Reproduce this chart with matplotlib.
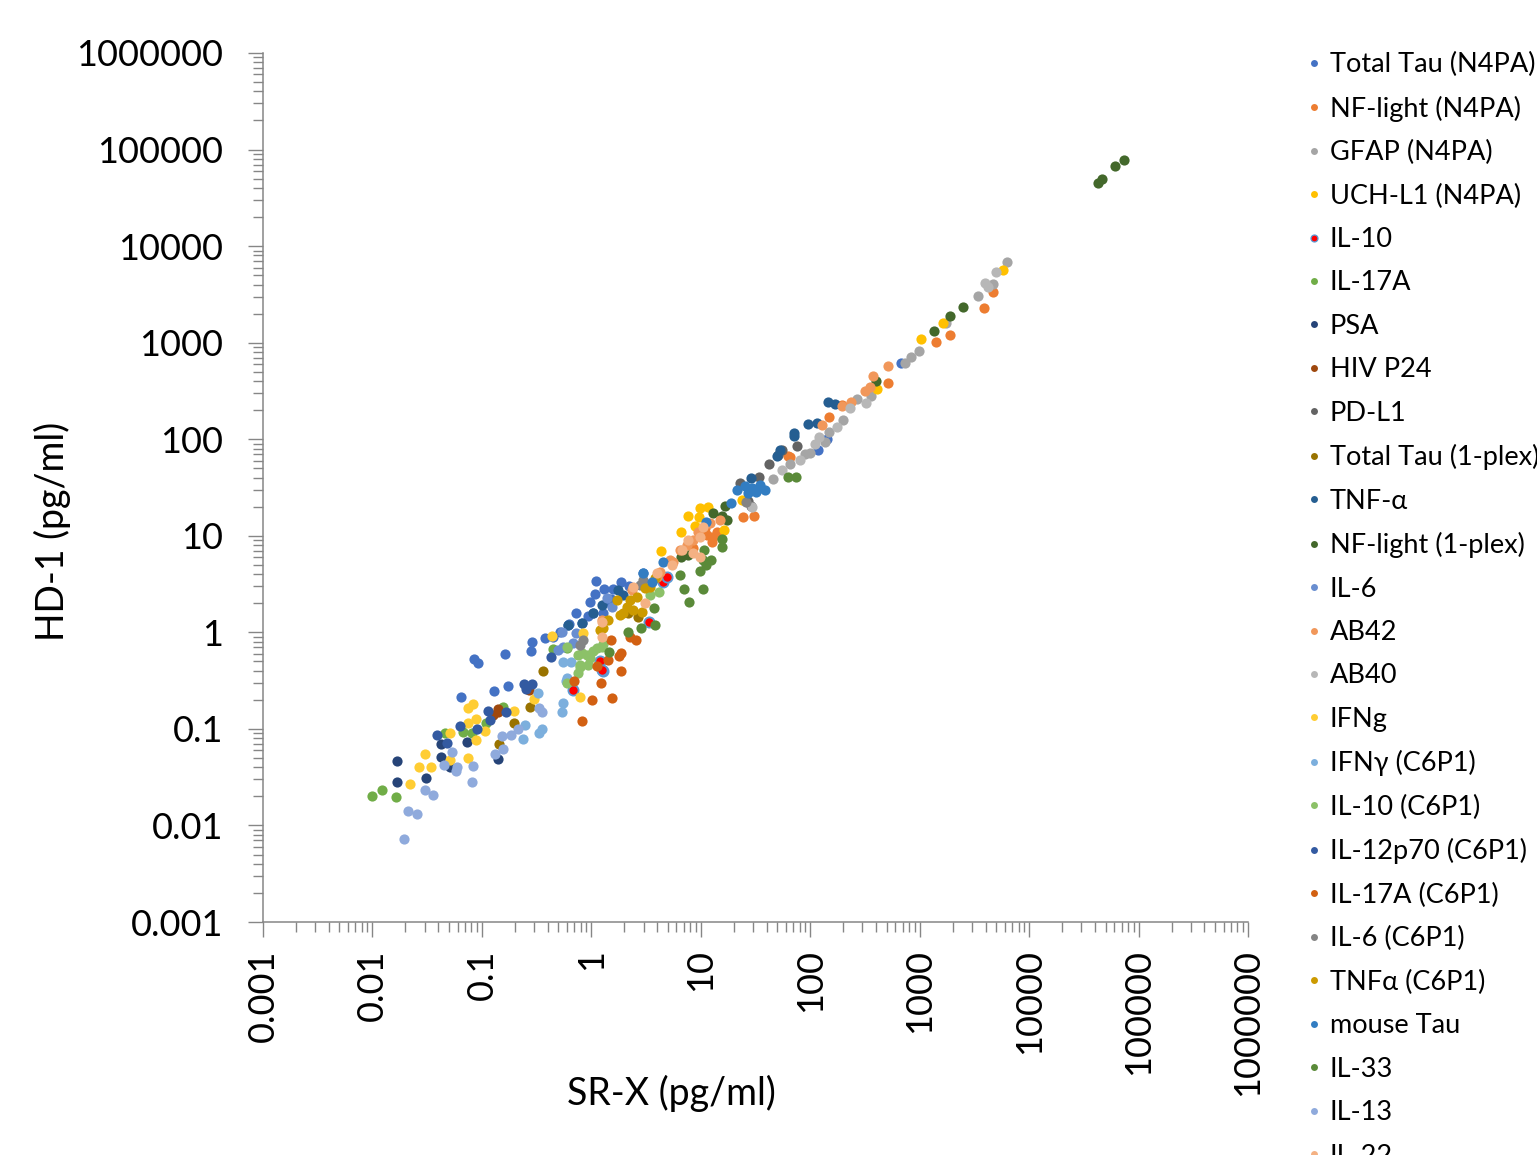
import numpy as np
import matplotlib
matplotlib.use('Agg')
import matplotlib.pyplot as plt
from matplotlib.ticker import LogLocator, FuncFormatter, NullFormatter
from matplotlib.lines import Line2D

plt.rcParams['font.family'] = ['Lato', 'DejaVu Sans']

names = ['Total Tau (N4PA)', 'NF-light (N4PA)', 'GFAP (N4PA)', 'UCH-L1 (N4PA)', 'IL-10',
         'IL-17A', 'PSA', 'HIV P24', 'PD-L1', 'Total Tau (1-plex)', 'TNF-\u03b1',
         'NF-light (1-plex)', 'IL-6', 'AB42', 'AB40', 'IFNg', 'IFN\u03b3 (C6P1)',
         'IL-10 (C6P1)', 'IL-12p70 (C6P1)', 'IL-17A (C6P1)', 'IL-6 (C6P1)',
         'TNF\u03b1 (C6P1)', 'mouse Tau', 'IL-33', 'IL-13', 'IL-22']
colors = ['#4472C4', '#ED7D31', '#A5A5A5', '#FFC000', '#FF0000', '#70AD47', '#264478',
          '#9E480E', '#636363', '#997300', '#255E91', '#43682B', '#698ED0', '#F1975A',
          '#B7B7B7', '#FFCD33', '#7CAFDD', '#8CC168', '#335AA1', '#D26012', '#848484',
          '#CC9A00', '#327DC2', '#5A8A39', '#8FAADC', '#F4B183']

# SR-X values (x) and HD-1 values (y), pg/ml, per assay
srx = {}
hd1 = {}
srx['Total Tau (N4PA)'] = [0.065, 0.085, 0.092, 0.129, 0.163, 0.173, 0.28, 0.287, 0.38, 0.45, 0.52, 0.625,
                           1.10, 1.31, 0.97, 1.08, 0.93, 1.58, 1.86, 0.61, 0.82, 1.39, 1.28, 1.04, 2.97,
                           676, 143, 118, 0.72, 1.5, 2.2]
hd1['Total Tau (N4PA)'] = [0.214, 0.53, 0.48, 0.245, 0.60, 0.28, 0.64, 0.79, 0.87, 0.89, 1.0, 1.22,
                           3.4, 2.8, 2.06, 2.5, 1.48, 2.8, 3.3, 1.19, 1.25, 2.06, 1.58, 1.58, 4.1,
                           617, 100, 78, 1.6, 2.2, 3.0]
srx['NF-light (N4PA)'] = [24.3, 30.7, 195, 65, 12.9, 11.4, 12.7, 5.5, 4700, 3890, 1900, 1420, 513, 63, 11,
                          8.5, 14, 150]
hd1['NF-light (N4PA)'] = [15.7, 16.0, 226, 65, 9.7, 10.2, 8.6, 5.2, 3360, 2290, 1200, 1010, 385, 67, 12,
                          7.5, 11, 170]
srx['GFAP (N4PA)'] = [6300, 4700, 3420, 1740, 985, 830, 735, 359, 268, 200, 137, 100, 65, 46, 35, 150, 90]
hd1['GFAP (N4PA)'] = [6840, 4050, 3040, 1600, 820, 710, 617, 280, 261, 158, 93, 72, 56, 39, 31.5, 120, 70]
srx['UCH-L1 (N4PA)'] = [5800, 1640, 1030, 408, 7.7, 9.8, 11.6, 9.6, 8.9, 6.6, 4.3, 16.3, 23.8]
hd1['UCH-L1 (N4PA)'] = [5630, 1600, 1090, 330, 16, 19.4, 20, 15.6, 12.6, 11, 7.0, 11.5, 23.5]
srx['IL-10'] = [0.68, 1.28, 1.2, 3.37, 4.5, 4.9, 1.25]
hd1['IL-10'] = [0.25, 0.40, 0.50, 1.28, 3.3, 3.7, 0.41]
srx['IL-17A'] = [0.0099, 0.0122, 0.0164, 0.046, 0.067, 0.081, 0.109, 0.156, 0.45, 0.60]
hd1['IL-17A'] = [0.0203, 0.0234, 0.0199, 0.091, 0.093, 0.091, 0.116, 0.17, 0.67, 0.69]
srx['PSA'] = [0.0167, 0.0167, 0.031, 0.042, 0.051, 0.14, 0.073, 0.042]
hd1['PSA'] = [0.047, 0.028, 0.031, 0.051, 0.040, 0.049, 0.073, 0.070]
srx['HIV P24'] = [0.14, 0.27, 0.14, 0.126]
hd1['HIV P24'] = [0.16, 0.25, 0.15, 0.138]
srx['PD-L1'] = [34, 42, 51, 55, 76, 35, 27, 29, 23]
hd1['PD-L1'] = [40.7, 55, 69, 77, 85, 32, 23, 20.4, 35]
srx['Total Tau (1-plex)'] = [0.36, 0.275, 0.197, 0.144, 2.67, 2.17]
hd1['Total Tau (1-plex)'] = [0.40, 0.17, 0.116, 0.070, 1.45, 1.58]
srx['TNF-\u03b1'] = [146, 169, 96, 115, 71, 71, 53, 50, 29, 1.75, 1.95, 1.25, 1.04, 0.82, 0.61]
hd1['TNF-\u03b1'] = [243, 232, 144, 148, 116, 108, 77, 67, 40, 2.74, 2.43, 1.92, 1.58, 1.25, 1.19]
srx['NF-light (1-plex)'] = [42700, 46500, 61000, 73800, 2490, 1890, 1350, 398, 16.6, 12.9, 15.6, 17.4, 7.7, 6.6]
hd1['NF-light (1-plex)'] = [45200, 49800, 67700, 78500, 2340, 1890, 1320, 400, 20.4, 17.3, 16, 14.6, 6.3, 6.0]
srx['IL-6'] = [1.39, 1.55, 0.55, 0.68, 0.50, 0.54, 0.72]
hd1['IL-6'] = [2.26, 1.83, 0.70, 0.78, 0.66, 1.0, 0.98]
srx['AB42'] = [12.2, 15, 8.5, 7.5, 5.6, 5.2, 4.25, 4.0, 2.36, 1.25, 513, 376, 352, 316, 236, 195, 128,
               9.5, 6.4]
hd1['AB42'] = [13.5, 14.6, 9.0, 8.0, 5.3, 5.6, 4.2, 3.7, 2.74, 1.34, 573, 452, 347, 316, 243, 221, 140,
               11, 7.2]
srx['AB40'] = [5000, 3990, 4220, 323, 232, 177, 111, 81, 29.5, 120, 55]
hd1['AB40'] = [5370, 4140, 3770, 237, 210, 133, 89, 61, 20, 105, 48]
srx['IFNg'] = [0.022, 0.0267, 0.034, 0.030, 0.051, 0.075, 0.051, 0.075, 0.089, 0.089, 0.107, 0.075,
               0.083, 0.197, 0.30, 0.79, 0.44, 0.84]
hd1['IFNg'] = [0.027, 0.040, 0.040, 0.055, 0.048, 0.050, 0.091, 0.116, 0.127, 0.076, 0.096, 0.166,
               0.182, 0.155, 0.206, 0.215, 0.91, 0.98]
srx['IFN\u03b3 (C6P1)'] = [0.25, 0.238, 0.333, 0.355, 0.54, 0.55, 0.326, 0.55, 0.65, 0.60, 0.59]
hd1['IFN\u03b3 (C6P1)'] = [0.110, 0.079, 0.091, 0.10, 0.148, 0.186, 0.237, 0.49, 0.49, 0.34, 0.31]
srx['IL-10 (C6P1)'] = [0.60, 0.79, 0.97, 0.82, 1.13, 1.28, 0.93, 0.76, 1.04, 0.76, 0.91, 1.25, 0.79, 0.60,
                       3.44, 4.15]
hd1['IL-10 (C6P1)'] = [0.30, 0.44, 0.54, 0.61, 0.69, 0.76, 0.46, 0.38, 0.64, 0.58, 0.58, 0.70, 0.46, 0.70,
                       2.43, 2.61]
srx['IL-12p70 (C6P1)'] = [0.039, 0.048, 0.063, 0.114, 0.119, 0.166, 0.243, 0.287, 0.253, 0.090, 0.43]
hd1['IL-12p70 (C6P1)'] = [0.086, 0.071, 0.107, 0.155, 0.125, 0.151, 0.29, 0.29, 0.26, 0.10, 0.55]
srx['IL-17A (C6P1)'] = [0.82, 1.01, 1.55, 1.23, 1.86, 1.13, 1.42, 1.79, 1.86, 1.51, 2.26, 2.56, 0.70]
hd1['IL-17A (C6P1)'] = [0.122, 0.20, 0.21, 0.30, 0.40, 0.45, 0.52, 0.57, 0.61, 0.83, 0.89, 0.83, 0.31]
srx['IL-6 (C6P1)'] = [0.84, 0.79, 2.79, 26, 2.97]
hd1['IL-6 (C6P1)'] = [0.83, 0.74, 3.1, 22.4, 3.5]
srx['TNF\u03b1 (C6P1)'] = [1.72, 2.12, 2.62, 1.95, 1.42, 1.28, 3.09, 3.44, 2.90, 2.40, 3.82, 2.26, 1.83, 1.2]
hd1['TNF\u03b1 (C6P1)'] = [2.16, 1.83, 2.32, 1.58, 1.34, 1.11, 2.88, 2.94, 1.62, 1.70, 3.66, 2.16, 1.51, 1.06]
srx['mouse Tau'] = [21.4, 25.4, 29.4, 34.7, 27, 32, 38.6, 18.9, 3.58, 2.97, 4.5, 11.2]
hd1['mouse Tau'] = [29.6, 32.7, 31.2, 33.5, 27.7, 28.4, 29.8, 21.9, 3.3, 4.1, 5.3, 13.9]
srx['IL-33'] = [62, 74, 15.6, 15.6, 10.7, 10.5, 12.4, 11.2, 9.8, 6.5, 7.0, 10.5, 7.8, 3.74, 3.82, 2.85,
                2.16, 1.45]
hd1['IL-33'] = [40.5, 40.5, 9.3, 7.6, 7.1, 5.6, 5.6, 5.0, 4.3, 3.9, 2.8, 2.8, 2.06, 1.79, 1.19, 1.11,
                1.0, 0.63]
srx['IL-13'] = [0.0195, 0.0211, 0.0256, 0.030, 0.036, 0.053, 0.045, 0.058, 0.059, 0.083, 0.081, 0.153,
                0.185, 0.214, 0.156, 0.132, 0.333, 0.355]
hd1['IL-13'] = [0.0072, 0.0141, 0.0131, 0.0233, 0.0207, 0.058, 0.042, 0.037, 0.040, 0.041, 0.028, 0.085,
                0.087, 0.10, 0.062, 0.055, 0.166, 0.151]
srx['IL-22'] = [1.25, 3.09, 2.4, 4.0, 5.5, 1.25, 10.5, 9.8, 7.7, 6.7, 8.5, 9.8]
hd1['IL-22'] = [1.28, 2.0, 2.94, 4.1, 5.0, 0.89, 12.3, 9.7, 9.0, 7.1, 6.6, 6.0]

fig = plt.figure(figsize=(15.37, 11.55), dpi=100)
ax = fig.add_axes([263/1537, 1 - 922/1155, 985/1537, 869/1155])

handles = []
for name, col in zip(names, colors):
    edge = '#5B9BD5' if name == 'IL-10' else col
    lw = 1.3 if name == 'IL-10' else 0
    ax.scatter(srx[name], hd1[name], s=54, c=col, edgecolors=edge, linewidths=lw, zorder=3)
    handles.append(Line2D([], [], ls='none', marker='o', markersize=5,
                          markerfacecolor=col, markeredgecolor=edge, markeredgewidth=lw * 0.7))

ax.set_xscale('log')
ax.set_yscale('log')
ax.set_xlim(1e-3, 1e6)
ax.set_ylim(1e-3, 1e6)

fmt = FuncFormatter(lambda v, p: '{:.10g}'.format(v))
for axis in (ax.xaxis, ax.yaxis):
    axis.set_major_locator(LogLocator(base=10, numticks=20))
    axis.set_minor_locator(LogLocator(base=10, subs=np.arange(2, 10), numticks=200))
    axis.set_major_formatter(fmt)
    axis.set_minor_formatter(NullFormatter())

for s in ['top', 'right']:
    ax.spines[s].set_visible(False)
for s in ['left', 'bottom']:
    ax.spines[s].set_color('#868686')
    ax.spines[s].set_linewidth(1.1)

ax.tick_params(which='major', direction='out', length=10.5, width=1.0, color='#868686',
               labelsize=26, labelcolor='black')
ax.tick_params(which='minor', direction='out', length=7, width=1.0, color='#868686')
ax.tick_params(axis='x', which='major', pad=9, labelrotation=90)
ax.tick_params(axis='y', which='major', pad=18)

ax.set_xlabel('SR-X (pg/ml)', fontsize=27)
ax.xaxis.set_label_coords(0.415, -0.197)
ax.xaxis.label.set_verticalalignment('center')
ax.set_ylabel('HD-1 (pg/ml)', fontsize=27)
ax.yaxis.set_label_coords(-0.214, 0.449)
ax.yaxis.label.set_verticalalignment('center')

fig.legend(handles, names, loc='upper left', bbox_to_anchor=(1300/1537, 1 - 52/1155),
           frameon=False, fontsize=19.5, labelspacing=0.68, handletextpad=0.1,
           handlelength=1.0, borderpad=0, borderaxespad=0)

fig.savefig('out.png', dpi=100)
